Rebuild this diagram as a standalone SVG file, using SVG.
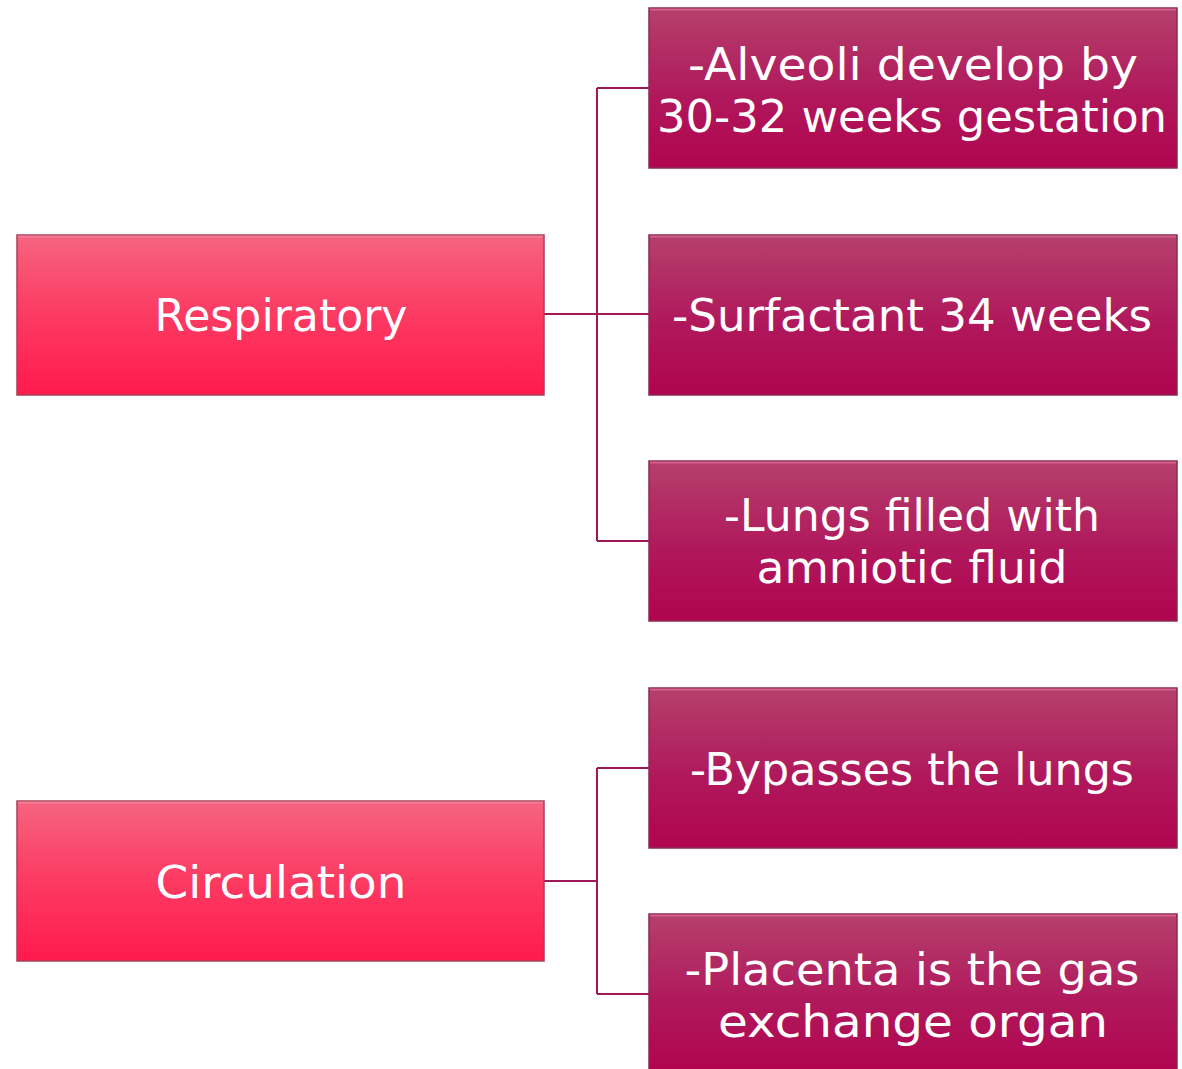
<svg xmlns="http://www.w3.org/2000/svg" width="1182" height="1069" viewBox="0 0 1182 1069">
<defs>
<linearGradient id="gl" x1="0" y1="0" x2="0" y2="1">
<stop offset="0" stop-color="#f6647f"/>
<stop offset="0.5" stop-color="#fc3a62"/>
<stop offset="1" stop-color="#ff1a4e"/>
</linearGradient>
<linearGradient id="gr" x1="0" y1="0" x2="0" y2="1">
<stop offset="0" stop-color="#b5406c"/>
<stop offset="0.55" stop-color="#b0185c"/>
<stop offset="1" stop-color="#b0044f"/>
</linearGradient>
<style>
.l{fill:url(#gl);stroke:#a8405a;stroke-width:1.5}
.r{fill:url(#gr);stroke:#8a2a50;stroke-width:1.5}
.hl{stroke:#f48aa4;stroke-width:2;opacity:0.7}
.hr{stroke:#e0709a;stroke-width:2;opacity:0.7}
text{font-family:"DejaVu Sans","Liberation Sans",sans-serif;font-size:44px;fill:#ffffff;text-anchor:middle}
.c{fill:none;stroke:#a0185a;stroke-width:2}
</style>
</defs>
<rect width="1182" height="1069" fill="#ffffff"/>
<g id="connectors">
<path class="c" d="M544 314H597M597 88V541M597 88H649M597 314H649M597 541H649"/>
<path class="c" d="M544 881H597M597 768V994M597 768H649M597 994H649"/>
</g>
<g id="respiratory">
<rect class="l" x="17" y="235" width="527" height="160"/>
<line class="hl" x1="18" y1="236.5" x2="543" y2="236.5"/>
<text x="281" y="331" textLength="253" lengthAdjust="spacingAndGlyphs">Respiratory</text>
</g>
<g id="circulation">
<rect class="l" x="17" y="801" width="527" height="160"/>
<line class="hl" x1="18" y1="802.5" x2="543" y2="802.5"/>
<text x="281" y="898" textLength="251" lengthAdjust="spacingAndGlyphs">Circulation</text>
</g>
<g id="alveoli">
<rect class="r" x="649" y="8" width="528" height="160"/>
<line class="hr" x1="650" y1="9.5" x2="1176" y2="9.5"/>
<text x="913" y="80" textLength="450" lengthAdjust="spacingAndGlyphs">-Alveoli develop by</text>
<text x="912" y="132" textLength="510" lengthAdjust="spacingAndGlyphs">30-32 weeks gestation</text>
</g>
<g id="surfactant">
<rect class="r" x="649" y="235" width="528" height="160"/>
<line class="hr" x1="650" y1="236.5" x2="1176" y2="236.5"/>
<text x="912" y="331" textLength="480" lengthAdjust="spacingAndGlyphs">-Surfactant 34 weeks</text>
</g>
<g id="lungs">
<rect class="r" x="649" y="461" width="528" height="160"/>
<line class="hr" x1="650" y1="462.5" x2="1176" y2="462.5"/>
<text x="912" y="531" textLength="376" lengthAdjust="spacingAndGlyphs">-Lungs filled with</text>
<text x="912" y="583" textLength="311" lengthAdjust="spacingAndGlyphs">amniotic fluid</text>
</g>
<g id="bypasses">
<rect class="r" x="649" y="688" width="528" height="160"/>
<line class="hr" x1="650" y1="689.5" x2="1176" y2="689.5"/>
<text x="912" y="785" textLength="444" lengthAdjust="spacingAndGlyphs">-Bypasses the lungs</text>
</g>
<g id="placenta">
<rect class="r" x="649" y="914" width="528" height="160"/>
<line class="hr" x1="650" y1="915.5" x2="1176" y2="915.5"/>
<text x="912" y="985" textLength="455" lengthAdjust="spacingAndGlyphs">-Placenta is the gas</text>
<text x="913" y="1037" textLength="390" lengthAdjust="spacingAndGlyphs">exchange organ</text>
</g>
</svg>
